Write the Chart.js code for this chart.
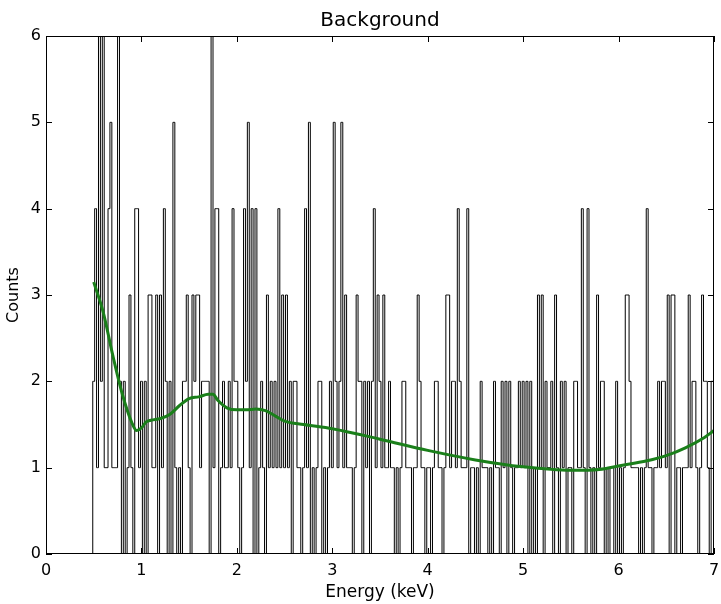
<!DOCTYPE html>
<html>
<head>
<meta charset="utf-8">
<script src="https://cdn.jsdelivr.net/npm/chart.js@4.4.1/dist/chart.umd.min.js"></script>
<style>
  body { margin: 0; background: #fff; }
  canvas { display: block; }
</style>
</head>
<body>
<canvas id="bgChart" width="721" height="604"></canvas>
<script>
// channel spectrum, 0.02 keV per channel (first channel is the empty one below 0.5 keV)
const startEnergy = 0.48;
const channelWidth = 0.02;
const counts = [
  0,
  2, 4, 1, 6, 2,  6, 1, 1, 4, 5,  1, 1, 1, 6, 2,  0, 2, 0, 1, 3,  1, 0, 4, 4, 1,
  2, 0, 2, 0, 3,  3, 1, 1, 3, 0,  3, 1, 4, 2, 0,  2, 0, 5, 1, 0,  1, 0, 2, 2, 3,
  1, 0, 3, 2, 3,  3, 1, 2, 2, 2,  2, 0, 6, 1, 4,  4, 0, 1, 2, 1,  1, 2, 1, 4, 2,
  2, 1, 0, 1, 4,  2, 5, 1, 4, 0,  4, 0, 1, 2, 1,  0, 3, 1, 2, 1,  2, 1, 4, 1, 3,
  1, 3, 1, 2, 0,  2, 2, 1, 1, 0,  1, 4, 1, 5, 0,  1, 0, 1, 2, 2,  0, 1, 0, 1, 2,
  1, 5, 2, 1, 2,  5, 1, 3, 1, 1,  1, 0, 1, 3, 2,  2, 0, 2, 1, 2,  0, 2, 4, 1, 3,
  2, 1, 3, 1, 1,  2, 1, 1, 0, 1,  0, 1, 2, 2, 1,  1, 1, 0, 1, 1,  3, 2, 1, 1, 0,
  1, 1, 0, 1, 2,  2, 1, 1, 0, 1,  3, 3, 1, 2, 2,  1, 4, 2, 1, 1,  1, 4, 0, 1, 1,
  0, 1, 0, 2, 1,  1, 1, 0, 1, 0,  2, 1, 1, 0, 2,  1, 2, 0, 2, 1,  0, 1, 1, 2, 1,
  2, 1, 2, 0, 2,  0, 1, 0, 3, 1,  3, 0, 2, 1, 1,  2, 0, 3, 1, 0,  2, 1, 2, 0, 1,
  1, 0, 2, 2, 1,  1, 4, 1, 0, 4,  1, 0, 1, 0, 3,  1, 2, 2, 0, 1,  0, 1, 1, 0, 2,
  0, 1, 0, 1, 3,  3, 2, 1, 1, 1,  1, 0, 1, 0, 1,  4, 1, 1, 0, 1,  1, 2, 1, 2, 2,
  1, 3, 0, 3, 3,  0, 1, 1, 0, 1,  1, 1, 3, 1, 2,  2, 1, 0, 1, 3,  2, 2, 1, 0, 2,
  2
];

// fitted background model
const modelEnergy = [0.5, 0.6, 0.7, 0.8, 0.9, 0.95, 1.0, 1.05, 1.1, 1.2, 1.3, 1.4, 1.5, 1.6, 1.7, 1.75, 1.8, 1.9,
  2.0, 2.1, 2.2, 2.3, 2.4, 2.5, 2.7, 3.0, 3.5, 4.0, 4.5, 5.0, 5.5, 5.8, 6.0, 6.3, 6.5, 6.7, 6.9, 7.0];
const modelCounts = [3.15, 2.8, 2.3, 1.85, 1.52, 1.43, 1.46, 1.53, 1.55, 1.57, 1.62, 1.72, 1.8, 1.82, 1.85, 1.85, 1.78, 1.69,
  1.67, 1.67, 1.68, 1.66, 1.6, 1.54, 1.5, 1.45, 1.33, 1.2, 1.09, 1.01, 0.97, 0.98, 1.02, 1.08, 1.14, 1.23, 1.35, 1.43];

const xTicks = [0, 1, 2, 3, 4, 5, 6, 7];
const yTicks = [0, 1, 2, 3, 4, 5, 6];

const spectrum = counts.map((c, i) => ({ x: startEnergy + i * channelWidth, y: c }));
const model = modelEnergy.map((e, i) => ({ x: e, y: modelCounts[i] }));

const fontFamily = "'DejaVu Sans', sans-serif";

// matplotlib-style frame with inward ticks on all four sides
const frameTicks = {
  id: 'frameTicks',
  afterDraw(chart) {
    const ctx = chart.ctx;
    const a = chart.chartArea;
    const xs = chart.scales.x, ys = chart.scales.y;
    ctx.save();
    ctx.strokeStyle = '#000';
    ctx.lineWidth = 1;
    ctx.strokeRect(a.left + 0.5, a.top + 0.5, a.right - a.left - 1, a.bottom - a.top - 1);
    ctx.beginPath();
    xTicks.forEach(t => {
      const px = Math.round(xs.getPixelForValue(t)) + 0.5;
      ctx.moveTo(px, a.bottom); ctx.lineTo(px, a.bottom - 6);
      ctx.moveTo(px, a.top); ctx.lineTo(px, a.top + 6);
    });
    yTicks.forEach(t => {
      const py = Math.round(ys.getPixelForValue(t)) + 0.5;
      ctx.moveTo(a.left, py); ctx.lineTo(a.left + 6, py);
      ctx.moveTo(a.right, py); ctx.lineTo(a.right - 6, py);
    });
    ctx.stroke();
    ctx.restore();
  }
};

new Chart(document.getElementById('bgChart').getContext('2d'), {
  type: 'line',
  data: {
    datasets: [
      {
        label: 'Model',
        data: model,
        order: 0,
        borderColor: '#1a7f1a',
        borderWidth: 3,
        cubicInterpolationMode: 'monotone',
        pointRadius: 0,
        fill: false
      },
      {
        label: 'Counts',
        data: spectrum,
        order: 1,
        borderColor: '#000',
        borderWidth: 1,
        stepped: 'middle',
        pointRadius: 0,
        fill: false
      }
    ]
  },
  options: {
    responsive: false,
    animation: false,
    layout: { padding: { left: 4, right: 7, top: 0, bottom: 0 } },
    plugins: {
      legend: { display: false },
      tooltip: { enabled: false },
      title: {
        display: true,
        fullSize: false,
        text: 'Background',
        color: '#000',
        font: { family: fontFamily, size: 20, weight: 'normal' },
        padding: { top: 9, bottom: 3 }
      }
    },
    scales: {
      x: {
        type: 'linear',
        min: 0,
        max: 7,
        afterBuildTicks: s => { s.ticks = xTicks.map(v => ({ value: v })); },
        afterFit: s => { s.height = 50; s.paddingLeft = 0; s.paddingRight = 0; },
        grid: { display: false, drawTicks: false },
        border: { display: false },
        ticks: { color: '#000', padding: 7, font: { family: fontFamily, size: 16 } },
        title: {
          display: true,
          text: 'Energy (keV)',
          color: '#000',
          padding: { top: 0, bottom: 1 },
          font: { family: fontFamily, size: 17 }
        }
      },
      y: {
        type: 'linear',
        min: 0,
        max: 6,
        afterBuildTicks: s => { s.ticks = yTicks.map(v => ({ value: v })); },
        afterFit: s => { s.width = 42; },
        grid: { display: false, drawTicks: false },
        border: { display: false },
        ticks: { color: '#000', padding: 5, font: { family: fontFamily, size: 16 } },
        title: {
          display: true,
          text: 'Counts',
          color: '#000',
          padding: { top: 0, bottom: 3 },
          font: { family: fontFamily, size: 16 }
        }
      }
    }
  },
  plugins: [frameTicks]
});
</script>
</body>
</html>
